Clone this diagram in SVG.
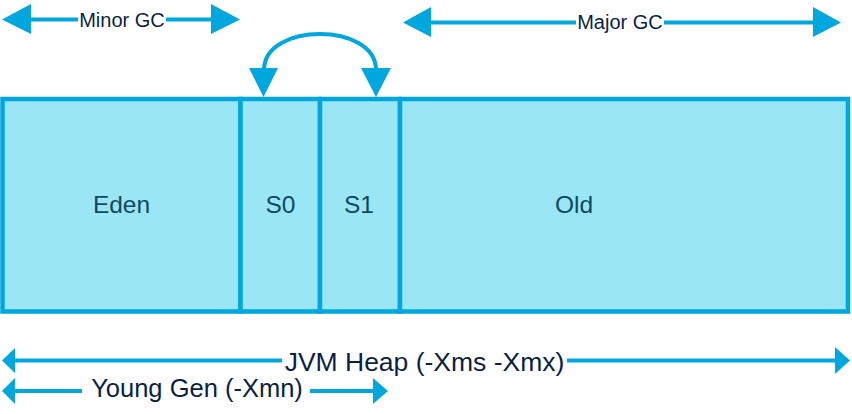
<svg xmlns="http://www.w3.org/2000/svg" width="852" height="414" viewBox="0 0 852 414">
<style>
.box{fill:#9be6f5;stroke:#00a6de;stroke-width:4.5}
.ln{stroke:#00a6de;stroke-width:4;fill:none}
.ah{fill:#00a6de}
.lbl{font-family:"Liberation Sans",Arial,sans-serif;fill:#0b1f44}
.in{font-family:"Liberation Sans",Arial,sans-serif;fill:#0c4a62;font-size:24.5px;text-anchor:middle}
</style>
<rect width="852" height="414" fill="#ffffff"/>
<g id="eden"><rect class="box" x="2.5" y="99" width="238" height="212.5"/><text class="in" x="121.5" y="213">Eden</text></g>
<g id="s0"><rect class="box" x="240.5" y="99" width="79.5" height="212.5"/><text class="in" x="280.5" y="213">S0</text></g>
<g id="s1"><rect class="box" x="320" y="99" width="80" height="212.5"/><text class="in" x="359" y="213">S1</text></g>
<g id="old"><rect class="box" x="400" y="99" width="448" height="212.5"/><text class="in" x="574" y="213">Old</text></g>
<g id="connectors">
<!-- Minor GC -->
<line class="ln" x1="30" y1="19.5" x2="78" y2="19.5"/>
<line class="ln" x1="166" y1="19.5" x2="212" y2="19.5"/>
<polygon class="ah" points="2,19.5 31,4 31,34"/>
<polygon class="ah" points="240,19.5 211,4 211,34"/>
<!-- Major GC -->
<line class="ln" x1="430" y1="22.5" x2="576" y2="22.5"/>
<line class="ln" x1="664" y1="22.5" x2="814" y2="22.5"/>
<polygon class="ah" points="403,22.5 431,7 431,37"/>
<polygon class="ah" points="841,22.5 813,7 813,37"/>
<!-- swap arc -->
<path class="ln" stroke-width="4.5" d="M 264 70 C 264 22, 376 22, 376 70"/>
<polygon class="ah" points="249,68 278,68 263.5,97"/>
<polygon class="ah" points="361,68 391,68 376,97"/>
<!-- JVM Heap -->
<line class="ln" stroke-width="3.5" x1="14" y1="360.5" x2="282" y2="360.5"/>
<line class="ln" stroke-width="3.5" x1="567" y1="360.5" x2="836" y2="360.5"/>
<polygon class="ah" points="2,360.5 15,348 15,373"/>
<polygon class="ah" points="850,360.5 835,347 835,374"/>
<!-- Young Gen -->
<line class="ln" stroke-width="3.5" x1="14" y1="391" x2="82" y2="391"/>
<line class="ln" stroke-width="3.5" x1="310" y1="391" x2="374" y2="391"/>
<polygon class="ah" points="2,391 15,378 15,404"/>
<polygon class="ah" points="388,391 373,378 373,404"/>
</g>
<g id="labels">
<text class="lbl" x="122" y="27" font-size="20" text-anchor="middle">Minor GC</text>
<text class="lbl" x="620" y="28.5" font-size="20" text-anchor="middle">Major GC</text>
<text class="lbl" x="424.5" y="370.5" font-size="26.5" text-anchor="middle">JVM Heap (-Xms -Xmx)</text>
<text class="lbl" x="197" y="396.5" font-size="25.5" text-anchor="middle">Young Gen (-Xmn)</text>
</g>
</svg>
